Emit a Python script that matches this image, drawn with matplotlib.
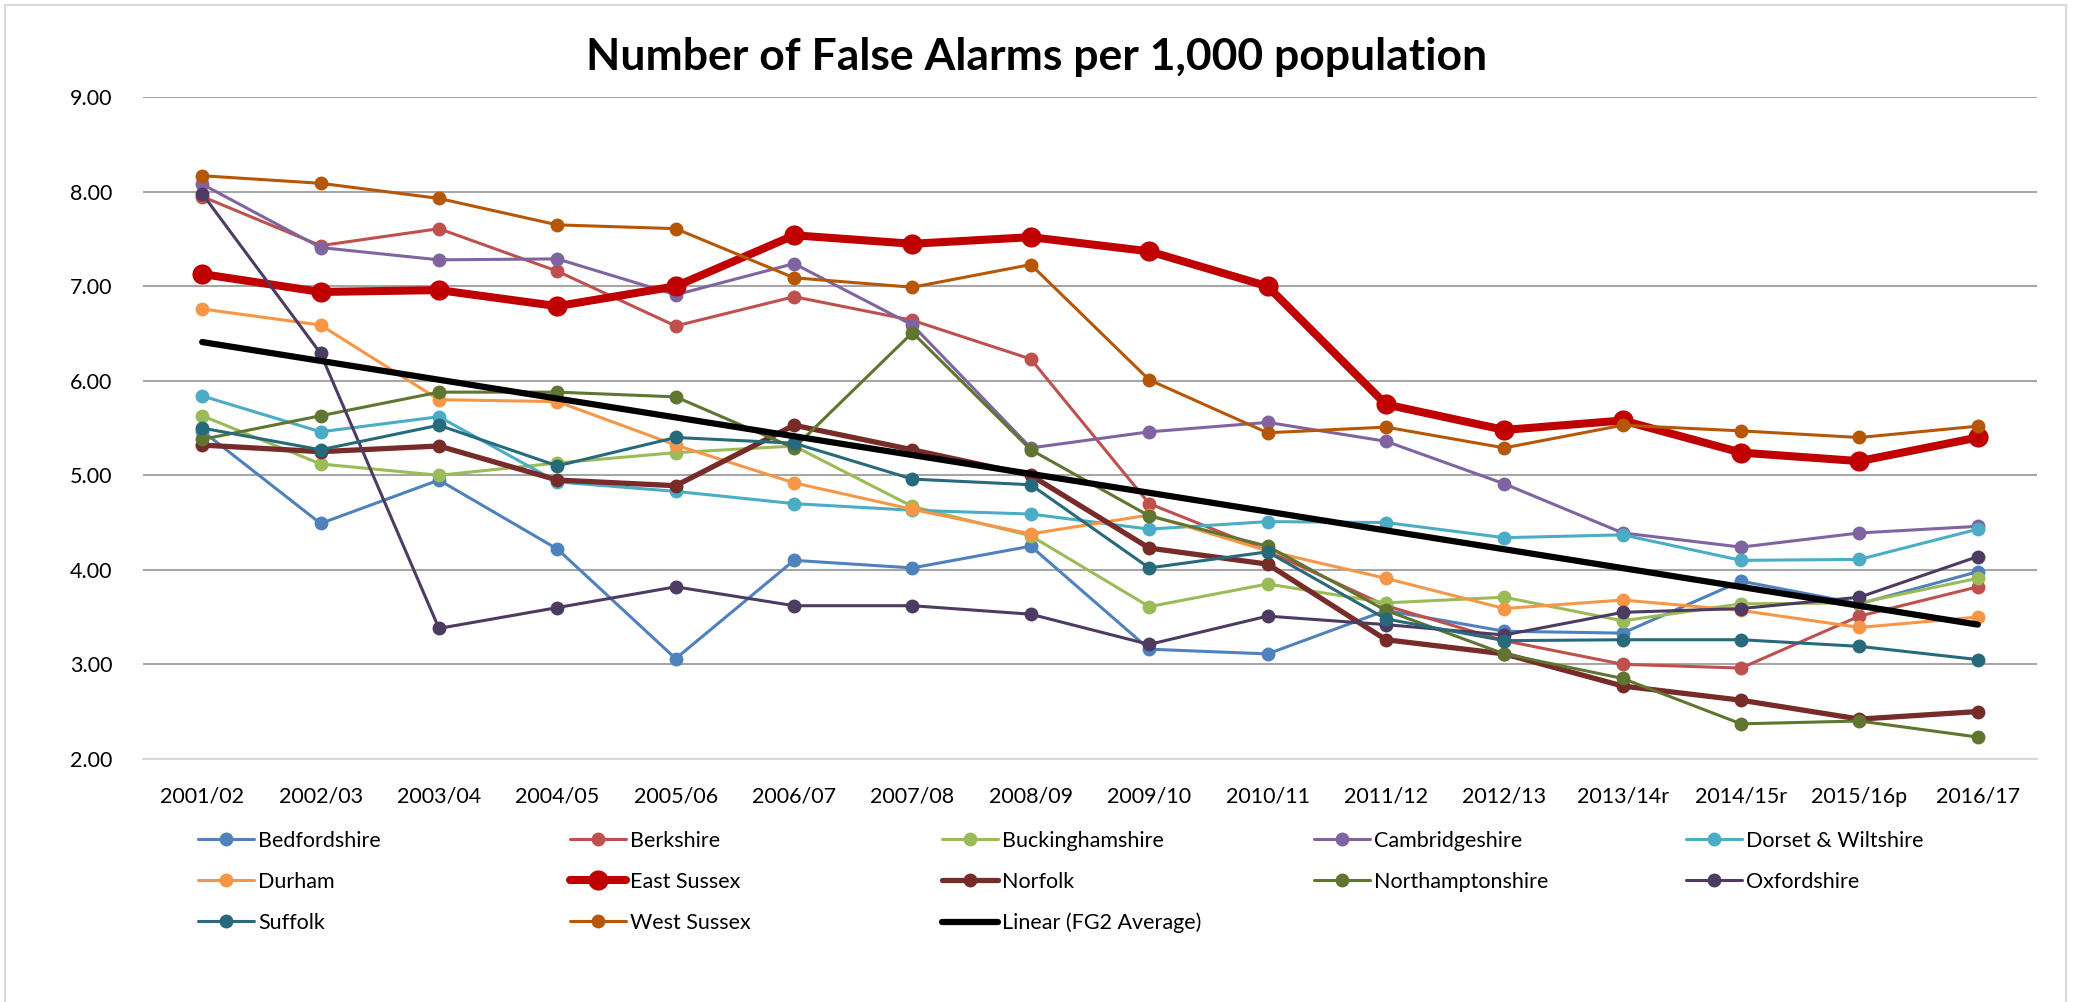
import numpy as np
import matplotlib
matplotlib.use('Agg')
import matplotlib.pyplot as plt

plt.rcParams['font.family'] = ['Lato', 'DejaVu Sans']

### DATA ###
years = ['2001/02', '2002/03', '2003/04', '2004/05', '2005/06', '2006/07', '2007/08', '2008/09',
         '2009/10', '2010/11', '2011/12', '2012/13', '2013/14r', '2014/15r', '2015/16p', '2016/17']

bedfordshire = [5.47, 4.49, 4.95, 4.22, 3.06, 4.10, 4.02, 4.25, 3.16, 3.11, 3.57, 3.35, 3.33, 3.88, 3.64, 3.98]
berkshire = [7.95, 7.43, 7.61, 7.16, 6.58, 6.89, 6.64, 6.23, 4.70, 4.20, 3.62, 3.25, 3.00, 2.96, 3.51, 3.82]
buckinghamshire = [5.63, 5.12, 5.00, 5.13, 5.24, 5.31, 4.67, 4.36, 3.61, 3.85, 3.65, 3.71, 3.46, 3.64, 3.65, 3.91]
cambridgeshire = [8.08, 7.41, 7.28, 7.29, 6.91, 7.24, 6.59, 5.29, 5.46, 5.56, 5.36, 4.91, 4.39, 4.24, 4.39, 4.46]
dorset_wiltshire = [5.84, 5.46, 5.62, 4.93, 4.83, 4.70, 4.63, 4.59, 4.43, 4.51, 4.50, 4.34, 4.37, 4.10, 4.11, 4.43]
durham = [6.76, 6.59, 5.80, 5.78, 5.32, 4.92, 4.64, 4.38, 4.58, 4.20, 3.91, 3.59, 3.68, 3.57, 3.39, 3.50]
east_sussex = [7.13, 6.94, 6.96, 6.79, 7.00, 7.54, 7.45, 7.52, 7.37, 7.00, 5.75, 5.48, 5.58, 5.24, 5.15, 5.40]
norfolk = [5.32, 5.25, 5.31, 4.95, 4.89, 5.53, 5.27, 5.00, 4.23, 4.06, 3.26, 3.11, 2.77, 2.62, 2.42, 2.50]
northamptonshire = [5.38, 5.63, 5.88, 5.88, 5.83, 5.29, 6.51, 5.27, 4.57, 4.25, 3.57, 3.11, 2.85, 2.37, 2.40, 2.23]
oxfordshire = [7.98, 6.29, 3.38, 3.60, 3.82, 3.62, 3.62, 3.53, 3.21, 3.51, 3.42, 3.31, 3.55, 3.59, 3.71, 4.14]
suffolk = [5.50, 5.27, 5.53, 5.10, 5.40, 5.34, 4.96, 4.90, 4.02, 4.19, 3.48, 3.25, 3.26, 3.26, 3.19, 3.05]
west_sussex = [8.17, 8.09, 7.93, 7.65, 7.61, 7.09, 6.99, 7.23, 6.01, 5.45, 5.51, 5.29, 5.53, 5.47, 5.40, 5.52]

# linear trend of the FG2 average, value at first and last year
fg2_trend = [6.41, 3.42]

### STYLE ###
series = [
    ('Bedfordshire', bedfordshire, '#4F81BD', 2.2, 10),
    ('Berkshire', berkshire, '#C0504D', 2.2, 10),
    ('Buckinghamshire', buckinghamshire, '#9BBB59', 2.2, 10),
    ('Cambridgeshire', cambridgeshire, '#8064A2', 2.2, 10),
    ('Dorset & Wiltshire', dorset_wiltshire, '#4BACC6', 2.2, 10),
    ('Durham', durham, '#F79646', 2.2, 10),
    ('East Sussex', east_sussex, '#C00000', 5.8, 14.5),
    ('Norfolk', norfolk, '#772C2A', 3.8, 10),
    ('Northamptonshire', northamptonshire, '#5F7530', 2.2, 10),
    ('Oxfordshire', oxfordshire, '#4D3B62', 2.2, 10),
    ('Suffolk', suffolk, '#276A7C', 2.2, 10),
    ('West Sussex', west_sussex, '#B65708', 2.2, 10),
]

fontTick = 15.5

fig = plt.figure(figsize=(20.73, 10.02), dpi=100)
ax = fig.add_axes([143/2073., 1 - 758.8/1002., (2037 - 143)/2073., (758.8 - 97.3)/1002.])

x = np.arange(len(years))
handles = []
labels = []
for name, vals, color, lw, ms in series:
    h, = ax.plot(x, vals, color=color, lw=lw, marker='o', markersize=ms,
                 markeredgewidth=0, solid_capstyle='round', solid_joinstyle='round')
    handles.append(h)
    labels.append(name)

trend, = ax.plot([x[0], x[-1]], fg2_trend, color='black', lw=4.5, solid_capstyle='round', zorder=5)
handles.append(trend)
labels.append('Linear (FG2 Average)')

ax.set_xlim(-0.5, len(years) - 0.5)
ax.set_ylim(2, 9)
ax.set_yticks(np.arange(2, 9.01, 1))
ax.set_yticklabels(['%.2f' % v for v in np.arange(2, 9.01, 1)])
ax.set_xticks(x)
ax.set_xticklabels(years)
ax.tick_params(axis='both', length=0, labelsize=fontTick)
ax.tick_params(axis='x', pad=20)
ax.tick_params(axis='y', pad=22)
ax.grid(axis='y', color='#A6A6A6', lw=1.5)
ax.set_axisbelow(True)
for s in ['top', 'left', 'right']:
    ax.spines[s].set_visible(False)
ax.spines['bottom'].set_color('#D9D9D9')
ax.spines['bottom'].set_linewidth(1.5)

fig.text(0.5, 1 - 57/1002., 'Number of False Alarms per 1,000 population',
         ha='center', va='center', fontsize=32, fontweight='bold')

# legend laid out row by row like Excel, one legend per column
cols = [[0, 5, 10], [1, 6, 11], [2, 7, 12], [3, 8], [4, 9]]
for i, col in enumerate(cols):
    fig.legend([handles[k] for k in col], [labels[k] for k in col],
               loc='upper left', bbox_to_anchor=((198 + 372*i)/2073., 1 - 831/1002.),
               frameon=False, fontsize=fontTick, handlelength=2.6, handletextpad=0.2,
               labelspacing=0.97, borderpad=0, borderaxespad=0, numpoints=1)

# chart area border
fig.add_artist(plt.Rectangle((5/2073., -0.01), (2066 - 5)/2073., 1.01 - 5/1002.,
                             transform=fig.transFigure, fill=False, edgecolor='#D9D9D9', lw=1.5))

fig.savefig('out.png', dpi=100)
